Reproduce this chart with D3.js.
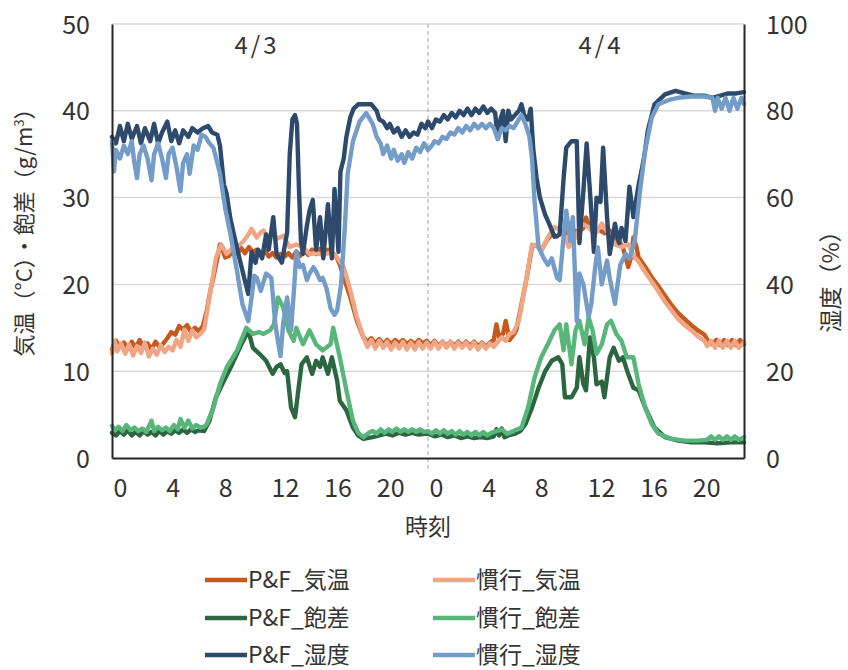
<!DOCTYPE html>
<html><head><meta charset="utf-8">
<script src="https://cdn.jsdelivr.net/npm/d3@7"></script>
<style>
body{margin:0;background:#fff;}
text{font-family:"Noto Sans CJK JP","Noto Sans",sans-serif;fill:#333;}
</style></head><body>
<svg id="c" width="848" height="670"></svg>
<script>
// ---- data (hour from 0:00 on 4/3, value) ----
const xTickHours = [0,4,8,12,16,20,24,28,32,36,40,44];
const xTickLabels = ["0","4","8","12","16","20","0","4","8","12","16","20"];
const leftTicks = [0,10,20,30,40,50];
const rightTicks = [0,20,40,60,80,100];
const dayLabels = ["4/3","4/4"];
const seriesNames = ["P&F_気温","慣行_気温","P&F_飽差","慣行_飽差","P&F_湿度","慣行_湿度"];

const pfTemp = [[0,12.5],[0.3,13.5],[0.6,12.8],[0.9,13.3],[1.2,12.6],[1.5,13.4],[1.8,12.7],[2.1,13.6],[2.4,12.7],[2.7,13.2],[3.0,12.5],[3.3,13.4],[3.6,12.8],[3.9,13.2],[4.2,13.8],[4.5,14.5],[4.8,14.2],[5.1,15.2],[5.4,14.8],[5.7,15.3],[6.0,14.5],[6.3,15],[6.6,14.6],[6.9,15.2],[7.2,17],[7.5,19.5],[7.7,20.8],[8.0,23],[8.2,24.6],[8.4,24],[8.6,23.1],[8.9,23.3],[9.2,23.9],[9.5,23.5],[9.8,24.2],[10.1,23.6],[10.4,24.3],[10.7,23.7],[11.0,24],[11.3,23.4],[11.6,23.9],[11.9,23.2],[12.2,23.6],[12.5,23.1],[12.8,23.5],[13.1,23.2],[13.4,23.6],[13.7,23.1],[14.0,23.8],[14.3,23.3],[14.6,23.9],[14.9,23.4],[15.2,24],[15.5,23.5],[15.8,24.1],[16.1,23.6],[16.4,24],[16.7,23.6],[17.0,23.3],[17.3,22.3],[17.6,20.8],[18.1,18.5],[18.6,15.8],[19.1,13.9],[19.4,13.4],[19.7,13.8],[20.0,13.2],[20.3,13.7],[20.6,13.1],[20.9,13.6],[21.2,13.1],[21.5,13.6],[21.8,13.2],[22.1,13.6],[22.4,13.1],[22.7,13.5],[23.0,13.1],[23.3,13.6],[23.6,13.2],[23.9,13.5],
[24.2,13],[24.5,13.5],[24.8,12.9],[25.1,13.4],[25.4,12.9],[25.7,13.4],[26.0,12.9],[26.3,13.4],[26.6,12.9],[26.9,13.4],[27.2,12.9],[27.5,13.4],[27.8,12.9],[28.1,13.3],[28.4,12.8],[28.7,13.3],[29.0,13.6],[29.2,15.4],[29.4,13.9],[29.7,14.3],[29.9,15.8],[30.2,13.6],[30.5,14.2],[30.7,14.7],[31.1,17.7],[31.5,20.8],[31.9,24.3],[32.3,24.6],[32.6,23.9],[33.0,25],[33.4,25.8],[33.8,25.5],[34.2,26.2],[34.6,25.9],[35.0,26.3],[35.4,26],[35.8,26.5],[36.0,27.7],[36.3,26.4],[36.6,26],[37.0,26.3],[37.4,25.9],[37.8,26.2],[38.2,25.4],[38.6,24.8],[38.8,24.3],[39.2,22],[39.4,23],[39.6,25.4],[39.8,24.5],[40.0,23.1],[40.5,22],[41.0,20.8],[41.5,19.8],[42.0,18.7],[42.5,17.6],[43.0,16.7],[43.5,16],[44.0,15.3],[44.5,14.7],[45.0,14.2],[45.3,13.4],[45.6,13.1],[45.9,13.6],[46.2,13],[46.5,13.6],[46.8,13],[47.1,13.6],[47.4,13],[47.7,13.6],[48,13.1]];

const cvTemp = [[0,12],[0.2,13.5],[0.4,12.3],[0.7,13.2],[1.0,12],[1.3,13.1],[1.6,11.8],[1.9,12.9],[2.2,12.1],[2.5,13.3],[2.8,11.7],[3.1,12.6],[3.4,11.9],[3.7,13],[4.0,12.2],[4.3,12.8],[4.6,12.4],[4.9,13.6],[5.2,12.8],[5.5,14.8],[5.8,13.5],[6.1,14.7],[6.4,13.9],[6.7,14.3],[7.0,14.8],[7.4,18.5],[7.9,23.1],[8.3,24.6],[8.7,23.5],[9.1,24.1],[9.5,24.3],[10.0,25],[10.3,25.6],[10.6,26.4],[11.0,25.4],[11.3,26],[11.5,26.2],[11.8,25.5],[12.2,25.8],[12.6,25.3],[13.0,25.6],[13.5,24.3],[14.0,24.6],[14.5,24.3],[15.0,23.5],[15.5,23.6],[16.0,23.4],[16.5,23.6],[17.0,23.3],[17.6,22],[18.1,19.3],[18.6,16.2],[19.1,13.9],[19.4,12.8],[19.7,13.6],[20.0,12.6],[20.3,13.5],[20.6,12.7],[20.9,13.4],[21.2,12.5],[21.5,13.3],[21.8,12.6],[22.1,13.4],[22.4,12.5],[22.7,13.3],[23.0,12.5],[23.3,13.4],[23.6,12.6],[23.9,13.3],
[24.2,12.6],[24.5,13.4],[24.8,12.6],[25.1,13.4],[25.4,12.7],[25.7,13.4],[26.0,12.6],[26.3,13.3],[26.6,12.7],[26.9,13.3],[27.2,12.6],[27.5,13.3],[27.8,12.5],[28.1,13.2],[28.4,12.6],[28.7,13.2],[29.0,12.8],[29.3,13.4],[29.6,13.9],[29.9,13.5],[30.2,14.3],[30.5,14.5],[30.9,15.8],[31.4,20],[31.9,24.6],[32.3,24.4],[32.6,23.9],[33.1,25.4],[33.6,26.6],[34.2,26.2],[34.7,24.3],[35.2,25.4],[35.7,27],[36.2,26.6],[36.7,25.8],[37.2,27],[37.7,25.9],[38.2,24.6],[38.7,24.3],[39.2,24.6],[39.7,23.1],[40,22.6],[40.5,21.4],[41,20.3],[41.5,19.2],[42,18],[42.5,17],[43,16],[43.5,15.3],[44,14.7],[44.5,14],[45,13.5],[45.2,12.9],[45.5,13.5],[45.8,12.7],[46.1,13.5],[46.4,12.7],[46.7,13.5],[47.0,12.7],[47.3,13.5],[47.6,12.7],[48,13.3]];

const pfVpd = [[0,2.9],[0.3,2.6],[0.6,3.1],[0.9,2.7],[1.2,3.2],[1.5,2.6],[1.8,3],[2.1,2.6],[2.4,3.1],[2.7,2.7],[3.0,3],[3.3,2.6],[3.6,3.1],[3.9,2.7],[4.2,3.1],[4.5,2.8],[4.8,3.2],[5.1,2.9],[5.4,3.3],[5.7,2.9],[6.0,3.3],[6.3,3],[6.6,3.2],[7.0,3.1],[7.4,4.3],[7.9,7],[8.5,8.9],[9.0,10.4],[9.7,12.7],[10.35,14.7],[10.7,12.7],[11.2,12],[11.7,11.2],[12.2,9.7],[12.5,10.5],[12.8,10.8],[13.1,9.8],[13.3,10],[13.6,5.8],[13.9,4.7],[14.15,7.8],[14.4,10.8],[14.8,11.6],[15.2,9.7],[15.5,11.2],[15.8,10.5],[16.0,11.6],[16.4,9.7],[16.7,11.6],[17.1,8.9],[17.3,6.6],[17.8,5.5],[18.3,3.5],[18.7,2.6],[19.1,2.2],[19.8,2.4],[20.3,2.6],[20.8,2.8],[21.3,2.6],[21.8,2.9],[22.3,2.7],[22.8,2.9],[23.3,2.7],[23.8,2.8],
[24.0,2.8],[24.5,2.5],[25,2.7],[25.5,2.4],[26,2.6],[26.5,2.3],[27,2.5],[27.5,2.3],[28,2.4],[28.5,2.3],[29.0,2.5],[29.2,3.3],[29.4,2.6],[29.6,3.4],[29.8,2.4],[30.1,2.6],[30.6,2.8],[31.0,3.1],[31.4,3.9],[31.9,5.8],[32.4,8.1],[32.9,10],[33.4,11.2],[33.9,11.6],[34.2,10.8],[34.4,7],[34.9,7],[35.3,8.1],[35.5,11.6],[35.8,8.5],[36.0,7.8],[36.3,13.9],[36.6,11.6],[36.8,8.5],[37.2,8.8],[37.4,7],[37.8,11.6],[38.1,12.7],[38.5,11.2],[38.8,11.6],[39.2,9.7],[39.6,8.1],[40.0,7.8],[40.5,5.8],[41.2,3.5],[42.0,2.4],[43.0,2],[44,1.8],[45,1.8],[46,1.7],[47,1.8],[48,1.8]];

const cvVpd = [[0,3.7],[0.2,3.2],[0.5,3.6],[0.8,3.1],[1.1,3.8],[1.4,3.2],[1.7,3.5],[2.0,3.1],[2.3,3.4],[2.6,3.0],[3.0,4.3],[3.2,3.1],[3.5,3.6],[3.8,3.2],[4.1,3.5],[4.4,3.1],[4.7,3.8],[5.0,3.3],[5.2,4.5],[5.5,3.5],[5.8,4.3],[6.1,3.4],[6.4,3.8],[6.7,3.5],[7.0,3.6],[7.2,3.9],[7.7,5.8],[8.2,8.5],[8.7,10.4],[9.5,12.4],[10.2,15],[10.7,14.3],[11.2,14.5],[11.5,14.3],[12.0,14.7],[12.3,15.4],[12.6,18.5],[13.0,17.4],[13.4,14.7],[13.8,13.5],[14.0,15],[14.5,13.1],[15.0,14.7],[15.5,13.1],[16.0,12.4],[16.6,13.1],[16.8,15],[17.3,11.6],[17.8,7.8],[18.3,4.3],[18.7,2.9],[19.1,2.4],[19.5,2.9],[19.8,3.1],[20.1,2.8],[20.4,3.3],[20.7,2.9],[21.0,3.3],[21.3,3],[21.6,3.4],[21.9,3],[22.2,3.3],[22.5,3],[22.8,3.3],[23.1,3],[23.4,3.3],[23.7,3],[24.0,3.1],
[24.3,2.8],[24.6,3.2],[24.9,2.8],[25.2,3.2],[25.5,2.8],[25.8,3.1],[26.1,2.7],[26.4,3.1],[26.7,2.7],[27.0,3],[27.3,2.6],[27.6,3],[27.9,2.6],[28.2,3],[28.5,2.6],[28.8,2.9],[29.2,3.1],[29.6,3.3],[30.0,2.8],[30.5,3.1],[31.1,3.5],[31.6,5.8],[32.1,9.3],[32.6,11.6],[33.1,13.1],[33.6,14.7],[34.0,15.4],[34.3,12.4],[34.5,15.4],[34.9,10.8],[35.2,14.7],[35.5,15.8],[35.9,13.1],[36.2,16.2],[36.5,14.7],[36.8,12],[37.2,13.1],[37.6,15.4],[37.9,15.8],[38.3,14.3],[38.7,13.5],[39.1,11.6],[39.6,11.6],[40.0,8.5],[40.5,5.8],[41.0,3.9],[41.5,2.8],[42.5,2.2],[43.5,2.0],[44.5,2],[45.2,2.1],[45.5,2.5],[45.8,2.1],[46.1,2.5],[46.4,2.1],[46.7,2.5],[47.0,2.1],[47.3,2.5],[47.6,2.1],[48,2.4]];

const pfHum = [[0,74],[0.3,72.5],[0.6,76.5],[0.9,73],[1.2,77],[1.5,73.5],[1.9,76.5],[2.2,72.5],[2.5,76],[2.9,73],[3.2,77],[3.5,72.5],[3.8,75],[4.2,77.5],[4.5,73],[4.8,75.5],[5.1,72.5],[5.4,75.5],[5.8,74],[6.1,76],[6.5,75],[6.9,76],[7.3,76.5],[7.6,75],[8.0,74.5],[8.2,72],[8.5,63],[8.7,61],[9.0,55],[9.3,51],[9.6,47],[10.0,42],[10.35,37.8],[10.6,47.5],[10.9,45],[11.1,48],[11.4,46],[11.7,51.5],[11.9,48],[12.25,55.5],[12.5,47],[12.9,45],[13.3,52],[13.5,70],[13.7,78],[13.9,79],[14.05,77],[14.2,62],[14.35,50],[14.5,47],[14.8,53.5],[15.0,57],[15.25,59.5],[15.5,48],[15.8,55.5],[16.05,46],[16.4,58.5],[16.7,46],[16.9,62],[17.2,47.5],[17.35,66],[17.6,69],[17.8,74],[18.1,78.5],[18.35,80.5],[18.7,81.5],[19.2,81.5],[19.7,81.5],[20.1,80],[20.3,78],[20.6,77.5],[20.9,76],[21.1,77],[21.4,75],[21.7,76],[22.0,74],[22.3,75.5],[22.6,74],[22.9,75],[23.2,74.5],[23.5,77],[23.8,76],
[24.0,77.5],[24.3,76],[24.6,78],[24.9,77.5],[25.2,79],[25.5,78],[25.8,79.5],[26.1,78.5],[26.4,80],[26.7,79],[27.0,80.5],[27.3,79],[27.6,80.5],[27.9,79.5],[28.2,81],[28.5,79.5],[28.8,80.5],[29.1,79.5],[29.3,73.5],[29.5,78],[29.7,80],[29.9,73],[30.1,80],[30.3,78],[30.6,79],[30.9,80],[31.1,81.5],[31.3,79],[31.6,78],[31.8,80.5],[32.0,71],[32.25,64.5],[32.5,60],[32.9,56],[33.2,54],[33.6,51],[34.0,51.5],[34.3,64.5],[34.5,71.5],[34.9,73],[35.3,73],[35.5,49.5],[35.8,61.5],[36.05,72.5],[36.3,61.5],[36.6,47.5],[36.8,60],[37.1,59],[37.3,71.5],[37.6,55.5],[37.8,47],[38.2,54],[38.5,49.5],[38.7,53],[39.0,50],[39.3,62.5],[39.6,55.5],[40.0,63],[40.4,69],[40.7,75.5],[41.2,81.5],[42.0,83.8],[42.8,84.6],[43.5,84],[44.2,83.5],[45,83.5],[45.6,83],[46.2,83.5],[46.8,84],[47.4,84],[48,84.3]];

const cvHum = [[0,73],[0.15,66],[0.3,71],[0.6,69],[0.9,72],[1.2,70],[1.5,73],[1.7,68],[1.9,64.5],[2.1,70],[2.4,72],[2.7,69],[3.0,64],[3.2,70],[3.5,72.5],[3.8,69],[4.1,64.5],[4.3,70],[4.6,71.5],[4.9,67],[5.2,61.5],[5.4,68],[5.7,70],[5.9,65.5],[6.2,72],[6.5,71],[6.8,74.5],[7.1,74],[7.4,72.5],[7.7,71.5],[8.0,68],[8.2,65.5],[8.6,57.5],[9.0,51.5],[9.5,43],[9.9,35.5],[10.35,31.5],[10.6,37],[10.8,42],[11.0,41.5],[11.3,38.5],[11.7,42.5],[12.1,41.5],[12.4,31],[12.6,27],[12.8,23.5],[13.0,31],[13.3,37],[13.6,29.5],[13.85,40],[14.0,47.5],[14.25,44],[14.5,44.5],[14.8,41],[15.0,42.5],[15.3,44],[15.5,43],[15.8,41],[16.0,41.5],[16.3,39],[16.6,34.5],[16.9,33],[17.1,34],[17.4,40],[17.7,54],[17.9,65.5],[18.3,73],[18.8,77.5],[19.3,79.5],[19.8,77],[20.1,74],[20.4,72.5],[20.6,70],[20.9,72],[21.2,69],[21.4,71],[21.7,68.5],[22.0,70],[22.2,68],[22.5,70.5],[22.8,69],[23.1,71.5],[23.4,70.5],[23.7,72.5],
[24.0,71],[24.3,72],[24.5,73],[24.8,72.5],[25.1,74],[25.4,73.5],[25.7,75],[26.0,74.5],[26.3,76],[26.6,75],[26.9,76.5],[27.2,75.5],[27.5,77],[27.8,76],[28.1,77],[28.4,76],[28.7,77],[29.0,76],[29.3,73.5],[29.6,76],[29.9,75.5],[30.2,76.5],[30.5,76],[30.8,77.5],[31.1,79],[31.4,77],[31.7,74],[31.9,69],[32.1,59],[32.4,48.5],[32.8,46],[33.1,44.5],[33.4,46],[33.8,41.5],[34.0,41],[34.3,51],[34.5,57],[34.8,50],[35.0,55.5],[35.3,31.5],[35.5,42.5],[35.8,40],[36.2,32.5],[36.4,35.5],[36.7,44],[36.9,48.5],[37.2,40],[37.6,45.5],[37.8,41.5],[38.2,35.5],[38.6,44.5],[39.0,47],[39.3,46],[39.7,50],[40.1,61.5],[40.5,71],[41.0,78.5],[41.5,81.5],[42.3,82.5],[43,83],[44,83.3],[45,83.3],[45.6,83],[45.8,80],[46.0,83],[46.3,80.5],[46.6,83],[46.9,80],[47.2,83],[47.5,80.5],[47.8,83],[48,81.5]];

const colors = ["#C55A1E","#F0A585","#2C6641","#58B67A","#2D4A6C","#739CC9"];

// ---- chart ----
const svg = d3.select("#c");
const L=112, R=744, T=24, B=458;
const x = d3.scaleLinear().domain([0,48]).range([L,R]);
const yL = d3.scaleLinear().domain([0,50]).range([B,T]);
const yR = d3.scaleLinear().domain([0,100]).range([B,T]);

// gridlines
svg.append("g").selectAll("line").data(leftTicks.slice(1)).join("line")
  .attr("x1",L).attr("x2",R).attr("y1",d=>yL(d)).attr("y2",d=>yL(d))
  .attr("stroke","#D9D9D9").attr("stroke-width",1.5);

// day separator
svg.append("line").attr("x1",x(24)).attr("x2",x(24)).attr("y1",T).attr("y2",B+12)
  .attr("stroke","#A6A6A6").attr("stroke-width",1).attr("stroke-dasharray","4,3");

// series
const allSeries = [
  {d:pfTemp, y:yL},{d:cvTemp, y:yL},{d:pfVpd, y:yL},{d:cvVpd, y:yL},{d:pfHum, y:yR},{d:cvHum, y:yR}
];
allSeries.forEach((s,i)=>{
  const line = d3.line().x(p=>x(p[0])).y(p=>s.y(p[1]));
  svg.append("path").datum(s.d).attr("d",line).attr("fill","none")
    .attr("stroke",colors[i]).attr("stroke-width",4.4)
    .attr("stroke-linejoin","round").attr("stroke-linecap","round");
});

// axes
const axL = svg.append("g").attr("transform",`translate(${L},0)`)
  .call(d3.axisLeft(yL).tickValues(leftTicks).tickSize(0).tickSizeOuter(0).tickPadding(22));
const axR = svg.append("g").attr("transform",`translate(${R},0)`)
  .call(d3.axisRight(yR).tickValues(rightTicks).tickSize(0).tickSizeOuter(0).tickPadding(22));
const axB = svg.append("g").attr("transform",`translate(0,${B})`)
  .call(d3.axisBottom(x).tickValues(xTickHours).tickFormat((d,i)=>xTickLabels[i]).tickSize(0).tickSizeOuter(0).tickPadding(0));
[axL,axR,axB].forEach(a=>{
  a.select(".domain").attr("stroke","#262626").attr("stroke-width",2);
  a.selectAll("text").style("font-family",'"Noto Sans CJK JP",sans-serif').style("font-size","25px").attr("fill","#333");
});
axB.selectAll("text").attr("text-anchor","start").attr("dx",1).attr("y",39).attr("dy","0");
axL.selectAll("text").attr("dy","0.36em");
axR.selectAll("text").attr("dy","0.36em");

// day labels
svg.append("g").selectAll("text").data(dayLabels).join("text")
  .attr("x",(d,i)=>i===0?257:601).attr("y",54).attr("text-anchor","middle")
  .attr("letter-spacing","3px").style("font-size","24px").attr("fill","#111").text(d=>d);

// axis titles
svg.append("text").attr("x",428).attr("y",535).attr("text-anchor","middle")
  .style("font-size","23px").text("時刻");
const lt = svg.append("text").attr("transform","translate(32,227) rotate(-90)")
  .attr("text-anchor","middle").style("font-size","22px");
lt.append("tspan").text("気温（°C）・飽差（g/m");
lt.append("tspan").attr("dy",-8).style("font-size","13px").text("3");
lt.append("tspan").attr("dy",8).text("）");
svg.append("text").attr("transform","translate(839,276) rotate(-90)")
  .attr("text-anchor","middle").style("font-size","23px").text("湿度（%）");

// legend
const legX=[205,433], legY=[580,618,655];
seriesNames.forEach((n,i)=>{
  const col=i%2, row=Math.floor(i/2);
  const g=svg.append("g");
  g.append("line").attr("x1",legX[col]).attr("x2",legX[col]+42).attr("y1",legY[row]).attr("y2",legY[row])
    .attr("stroke",colors[i]).attr("stroke-width",4.4);
  g.append("text").attr("x",legX[col]+43).attr("y",legY[row]).attr("dy","0.36em")
    .style("font-size","23px").text(n);
});
</script></body></html>
